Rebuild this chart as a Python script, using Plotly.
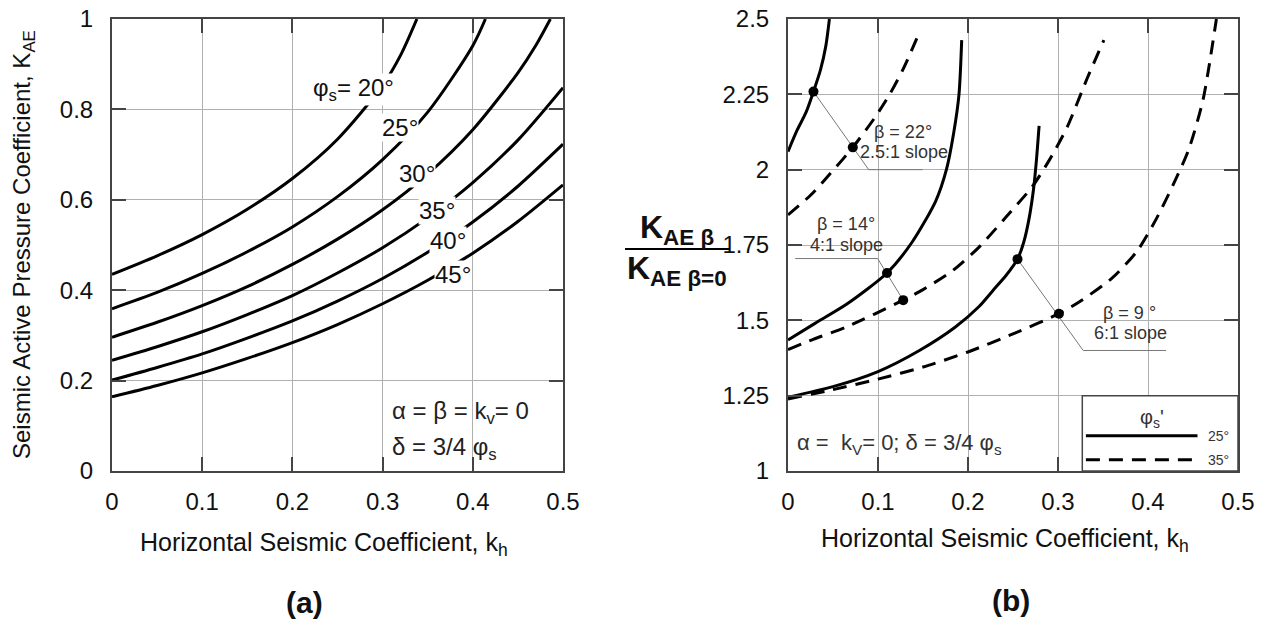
import plotly.graph_objects as go

# the page body adds an 8 px margin, so the figure is drawn 8 px smaller and shifted
W, H = 1272, 621
OFF = 8
FONT = "Liberation Sans, Arial, sans-serif"

# ---- panel (a): K_AE vs k_h for several phi_s ----
kh_20 = [0, 0.05, 0.1, 0.15, 0.2, 0.25, 0.3, 0.32, 0.338]
kae_20 = [0.435, 0.476, 0.523, 0.579, 0.647, 0.734, 0.853, 0.92, 1.0]
kh_25 = [0, 0.05, 0.1, 0.15, 0.2, 0.25, 0.3, 0.35, 0.4, 0.414]
kae_25 = [0.359, 0.395, 0.437, 0.485, 0.540, 0.607, 0.689, 0.794, 0.941, 1.0]
kh_30 = [0, 0.05, 0.1, 0.15, 0.2, 0.25, 0.3, 0.35, 0.4, 0.45, 0.47, 0.486]
kae_30 = [0.296, 0.329, 0.366, 0.408, 0.457, 0.513, 0.578, 0.657, 0.755, 0.881, 0.942, 1.0]
kh_35 = [0, 0.05, 0.1, 0.15, 0.2, 0.25, 0.3, 0.35, 0.4, 0.45, 0.5]
kae_35 = [0.245, 0.275, 0.308, 0.346, 0.388, 0.438, 0.494, 0.560, 0.638, 0.732, 0.848]
kh_40 = [0, 0.05, 0.1, 0.15, 0.2, 0.25, 0.3, 0.35, 0.4, 0.45, 0.5]
kae_40 = [0.201, 0.229, 0.259, 0.294, 0.332, 0.376, 0.426, 0.484, 0.551, 0.630, 0.723]
kh_45 = [0, 0.05, 0.1, 0.15, 0.2, 0.25, 0.3, 0.35, 0.4, 0.45, 0.5]
kae_45 = [0.164, 0.189, 0.217, 0.249, 0.284, 0.324, 0.370, 0.422, 0.482, 0.552, 0.633]

phi_labels = ["φ<sub>s</sub>= 20°", "25°", "30°", "35°", "40°", "45°"]
phi_label_x = [0.268, 0.319, 0.338, 0.36, 0.372, 0.378]
phi_label_y = [0.845, 0.759, 0.659, 0.577, 0.511, 0.434]

# ---- panel (b): K_AE(beta) / K_AE(beta=0) ----
kh_b22_25 = [0, 0.01, 0.02, 0.0283, 0.036, 0.042, 0.046]
rat_b22_25 = [2.06, 2.13, 2.19, 2.259, 2.33, 2.41, 2.5]
kh_b22_35 = [0, 0.025, 0.047, 0.072, 0.097, 0.113, 0.129, 0.146]
rat_b22_35 = [1.85, 1.915, 1.987, 2.074, 2.175, 2.25, 2.34, 2.456]
kh_b14_25 = [0, 0.03, 0.065, 0.11, 0.138, 0.164, 0.176, 0.184, 0.19, 0.193]
rat_b14_25 = [1.435, 1.49, 1.553, 1.657, 1.76, 1.895, 2.0, 2.12, 2.25, 2.43]
kh_b14_35 = [0, 0.028, 0.065, 0.128, 0.15, 0.183, 0.212, 0.242, 0.271, 0.29, 0.31, 0.332, 0.351]
rat_b14_35 = [1.403, 1.437, 1.478, 1.567, 1.602, 1.665, 1.742, 1.842, 1.942, 2.03, 2.14, 2.30, 2.43]
kh_b9_25 = [0, 0.05, 0.1, 0.146, 0.186, 0.212, 0.228, 0.242, 0.25, 0.255, 0.262, 0.268, 0.273, 0.276, 0.279]
rat_b9_25 = [1.245, 1.28, 1.33, 1.40, 1.478, 1.545, 1.60, 1.648, 1.68, 1.703, 1.76, 1.84, 1.94, 2.03, 2.145]
kh_b9_35 = [0, 0.05, 0.1, 0.15, 0.2, 0.25, 0.301, 0.323, 0.36, 0.388, 0.408, 0.428, 0.445, 0.461, 0.476]
rat_b9_35 = [1.239, 1.27, 1.305, 1.345, 1.395, 1.455, 1.522, 1.56, 1.64, 1.73, 1.83, 1.95, 2.065, 2.23, 2.5]

dot_kh = [0.0283, 0.072, 0.11, 0.128, 0.255, 0.301]
dot_rat = [2.259, 2.074, 1.657, 1.567, 1.703, 1.522]

lead22_kh = [0.0283, 0.0897, 0.1496]
lead22_rat = [2.259, 2.0, 2.0]
lead14_kh = [0.008, 0.0996, 0.128]
lead14_rat = [1.705, 1.705, 1.567]
lead9_kh = [0.255, 0.328, 0.42]
lead9_rat = [1.703, 1.40, 1.40]

fig = go.Figure()

for xs, ys in [(kh_20, kae_20), (kh_25, kae_25), (kh_30, kae_30),
               (kh_35, kae_35), (kh_40, kae_40), (kh_45, kae_45)]:
    fig.add_trace(go.Scatter(x=xs, y=ys, mode="lines", xaxis="x", yaxis="y",
                             line=dict(color="black", width=3, shape="spline", smoothing=0.8),
                             showlegend=False, hoverinfo="skip"))

for xs, ys in [(lead22_kh, lead22_rat), (lead14_kh, lead14_rat), (lead9_kh, lead9_rat)]:
    fig.add_trace(go.Scatter(x=xs, y=ys, mode="lines", xaxis="x2", yaxis="y2",
                             line=dict(color="#777", width=1), showlegend=False, hoverinfo="skip"))

for xs, ys in [(kh_b22_25, rat_b22_25), (kh_b14_25, rat_b14_25), (kh_b9_25, rat_b9_25)]:
    fig.add_trace(go.Scatter(x=xs, y=ys, mode="lines", xaxis="x2", yaxis="y2",
                             line=dict(color="black", width=3, shape="spline", smoothing=0.7),
                             showlegend=False, hoverinfo="skip"))
for xs, ys in [(kh_b22_35, rat_b22_35), (kh_b14_35, rat_b14_35), (kh_b9_35, rat_b9_35)]:
    fig.add_trace(go.Scatter(x=xs, y=ys, mode="lines", xaxis="x2", yaxis="y2",
                             line=dict(color="black", width=3, shape="spline", smoothing=0.7,
                                       dash="14px,9px"),
                             showlegend=False, hoverinfo="skip"))

fig.add_trace(go.Scatter(x=dot_kh, y=dot_rat, mode="markers", xaxis="x2", yaxis="y2",
                         marker=dict(color="black", size=10), showlegend=False, hoverinfo="skip"))

FW, FH = W - OFF, H - OFF


def px_x(p):
    return (p - OFF) / FW


def px_y(p):
    return 1 - (p - OFF) / FH


axis_common = dict(showgrid=True, gridcolor="#b0b0b0", gridwidth=1, zeroline=False,
                   showline=True, linecolor="#444", linewidth=2, mirror="allticks",
                   ticks="inside", ticklen=14, tickwidth=1.5, tickcolor="#444",
                   automargin=False, ticklabeloverflow="allow",
                   tickfont=dict(family=FONT, size=24, color="#111"))

fig.update_layout(
    template="none",
    width=FW, height=FH, margin=dict(l=0, r=0, t=0, b=0, pad=0), autosize=False,
    paper_bgcolor="white", plot_bgcolor="white",
    xaxis=dict(domain=[px_x(112), px_x(563)], range=[0, 0.5], anchor="y",
               tickvals=[0, 0.1, 0.2, 0.3, 0.4, 0.5],
               ticktext=["0", "0.1", "0.2", "0.3", "0.4", "0.5"],
               ticklabelstandoff=8, **axis_common),
    yaxis=dict(domain=[px_y(471), px_y(19)], range=[0, 1], anchor="x",
               tickvals=[0, 0.2, 0.4, 0.6, 0.8, 1],
               ticktext=["0", "0.2", "0.4", "0.6", "0.8", "1"],
               ticklabelstandoff=12, **axis_common),
    xaxis2=dict(domain=[px_x(788), px_x(1238)], range=[0, 0.5], anchor="y2",
                tickvals=[0, 0.1, 0.2, 0.3, 0.4, 0.5],
                ticktext=["0", "0.1", "0.2", "0.3", "0.4", "0.5"],
                ticklabelstandoff=8, **axis_common),
    yaxis2=dict(domain=[px_y(471), px_y(19)], range=[1, 2.5], anchor="x2",
                tickvals=[1, 1.25, 1.5, 1.75, 2, 2.25, 2.5],
                ticktext=["1", "1.25", "1.5", "1.75", "2", "2.25", "2.5"],
                ticklabelstandoff=12, **axis_common),
)


def paper_text(x, y, text, size, bold=False, angle=0):
    return dict(x=px_x(x), y=px_y(y), xref="paper", yref="paper", xanchor="center",
                yanchor="middle", text=f"<b>{text}</b>" if bold else text, textangle=angle,
                showarrow=False, font=dict(family=FONT, size=size, color="#111"))


ann = []
for t, x, y in zip(phi_labels, phi_label_x, phi_label_y):
    ann.append(dict(x=x, y=y, xref="x", yref="y", text=t, showarrow=False,
                    font=dict(family=FONT, size=24, color="#111"), bgcolor="white", borderpad=0))
ann += [
    dict(x=0.308, y=0.13, xref="x", yref="y", text="α = β = k<sub>v</sub>= 0", xanchor="left",
         showarrow=False, font=dict(family=FONT, size=24, color="#222")),
    dict(x=0.308, y=0.05, xref="x", yref="y", text="δ = 3/4 φ<sub>s</sub>", xanchor="left",
         showarrow=False, font=dict(family=FONT, size=24, color="#222")),
    dict(x=0.128, y=2.126, xref="x2", yref="y2", text="β = 22°", showarrow=False,
         font=dict(family=FONT, size=18, color="#333")),
    dict(x=0.129, y=2.059, xref="x2", yref="y2", text="2.5:1 slope", showarrow=False,
         font=dict(family=FONT, size=18, color="#333")),
    dict(x=0.064, y=1.821, xref="x2", yref="y2", text="β = 14°", showarrow=False,
         font=dict(family=FONT, size=18, color="#333")),
    dict(x=0.065, y=1.749, xref="x2", yref="y2", text="4:1 slope", showarrow=False,
         font=dict(family=FONT, size=18, color="#333")),
    dict(x=0.379, y=1.524, xref="x2", yref="y2", text="β = 9 °", showarrow=False,
         font=dict(family=FONT, size=18, color="#333")),
    dict(x=0.381, y=1.458, xref="x2", yref="y2", text="6:1 slope", showarrow=False,
         font=dict(family=FONT, size=18, color="#333")),
    dict(x=0.008, y=1.089, xref="x2", yref="y2", xanchor="left",
         text="α =  k<sub>V</sub>= 0; δ = 3/4 φ<sub>s</sub>", showarrow=False,
         font=dict(family=FONT, size=22, color="#333")),
    dict(x=0.404, y=1.175, xref="x2", yref="y2", text="φ<sub>s</sub>'", showarrow=False,
         font=dict(family=FONT, size=20, color="#333")),
    dict(x=0.478, y=1.117, xref="x2", yref="y2", text="25°", showarrow=False,
         font=dict(family=FONT, size=14, color="#333")),
    dict(x=0.478, y=1.037, xref="x2", yref="y2", text="35°", showarrow=False,
         font=dict(family=FONT, size=14, color="#333")),
    # axis titles and panel labels
    paper_text(324, 544, "Horizontal Seismic Coefficient, k<sub>h</sub>", 25),
    paper_text(1005, 540, "Horizontal Seismic Coefficient, k<sub>h</sub>", 25),
    paper_text(24, 245, "Seismic Active Pressure Coefficient, K<sub>AE</sub>", 24, angle=-90),
    paper_text(304, 602, "(a)", 30, bold=True),
    paper_text(1011, 600, "(b)", 30, bold=True),
    paper_text(677, 229, "K<sub>AE β</sub>", 32, bold=True),
    paper_text(677, 270, "K<sub>AE β=0</sub>", 32, bold=True),
]
fig.update_layout(annotations=ann)

fig.update_layout(shapes=[
    dict(type="rect", xref="x2", yref="y2", x0=0.327, x1=0.5, y0=1.0, y1=1.25,
         fillcolor="white", line=dict(color="#444", width=1.5), layer="above"),
    dict(type="line", xref="x2", yref="y2", x0=0.331, x1=0.455, y0=1.117, y1=1.117,
         line=dict(color="black", width=3), layer="above"),
    dict(type="line", xref="x2", yref="y2", x0=0.331, x1=0.455, y0=1.037, y1=1.037,
         line=dict(color="black", width=3, dash="14px,9px"), layer="above"),
    dict(type="line", xref="paper", yref="paper", x0=px_x(625), x1=px_x(730),
         y0=px_y(249), y1=px_y(249), line=dict(color="black", width=2)),
])

fig.write_html("out.html")
